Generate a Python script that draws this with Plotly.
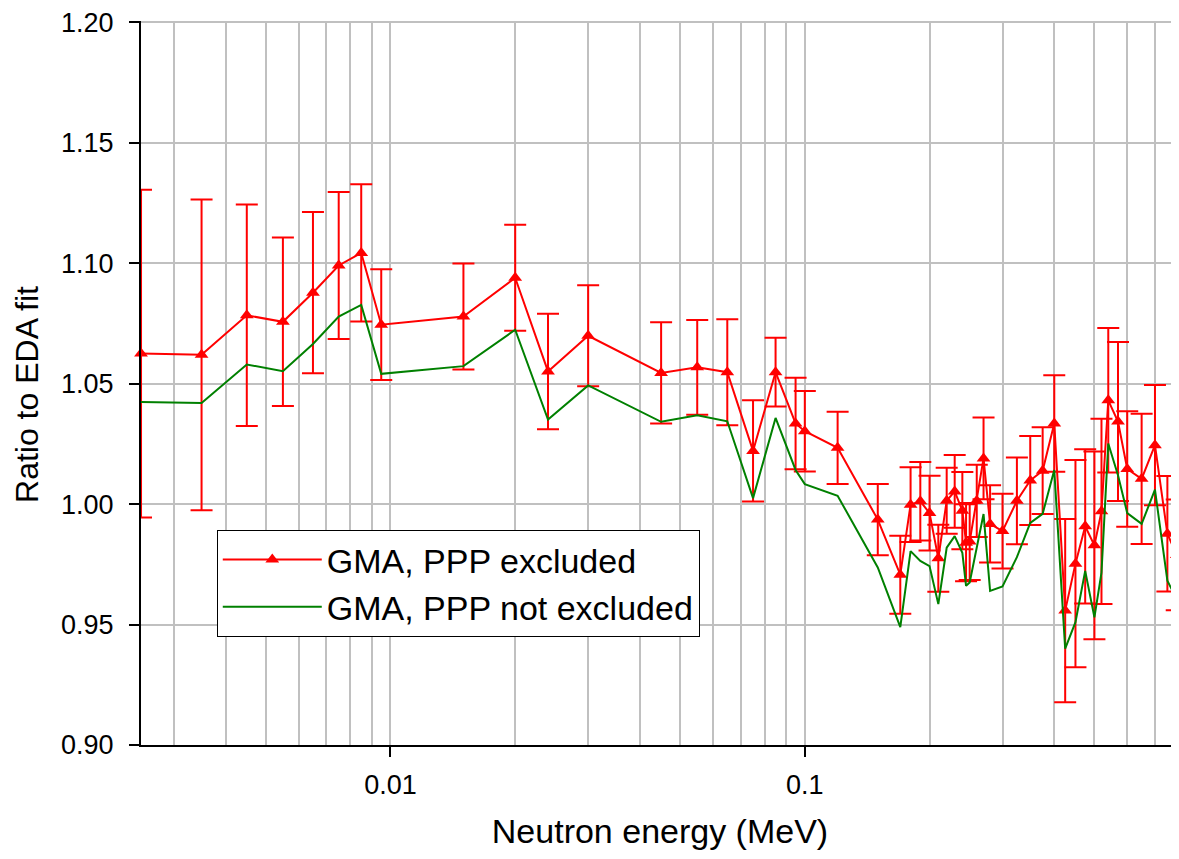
import plotly.graph_objects as go

energy = [0.0025, 0.0035, 0.0045, 0.0055, 0.0065, 0.0075, 0.0085, 0.0095, 0.015, 0.02,
          0.024, 0.03, 0.045, 0.055, 0.065, 0.075, 0.085, 0.095, 0.1, 0.12,
          0.15, 0.17, 0.18, 0.19, 0.2, 0.21, 0.22, 0.23, 0.24, 0.245,
          0.25, 0.26, 0.27, 0.28, 0.3, 0.325, 0.35, 0.375, 0.4, 0.425,
          0.45, 0.475, 0.5, 0.52, 0.54, 0.57, 0.6, 0.65, 0.7, 0.75, 0.79]

ratio_excluded = [1.0625, 1.0620, 1.0784, 1.0757, 1.0878, 1.0991, 1.1043, 1.0745, 1.0779, 1.0940,
                  1.0551, 1.0699, 1.0545, 1.0568, 1.0548, 1.0221, 1.0548, 1.0335, 1.0303, 1.0234,
                  0.9936, 0.9707, 0.9998, 1.0012, 0.9963, 0.9775, 1.0014, 1.0053, 0.9973, 0.9840,
                  0.9845, 1.0014, 1.0190, 0.9918, 0.9888, 1.0014, 1.0098, 1.0139, 1.0335, 0.9558,
                  0.9753, 0.9908, 0.9829, 0.9970, 1.0431, 1.0343, 1.0146, 1.0105, 1.0245, 0.9877, 0.9789]

err_excluded = [0.068, 0.0645, 0.046, 0.035, 0.0335, 0.0305, 0.0285, 0.023, 0.022, 0.022,
                0.024, 0.021, 0.021, 0.0197, 0.022, 0.021, 0.0143, 0.019, 0.0167, 0.015,
                0.0148, 0.0162, 0.0155, 0.0163, 0.0155, 0.0139, 0.0137, 0.0151, 0.016, 0.016,
                0.016, 0.015, 0.017, 0.016, 0.0155, 0.018, 0.0185, 0.018, 0.020, 0.038,
                0.043, 0.032, 0.039, 0.0385, 0.030, 0.033, 0.024, 0.027, 0.025, 0.024, 0.023]

ratio_not_excluded = [1.0424, 1.0420, 1.0580, 1.0552, 1.0665, 1.0779, 1.0827, 1.0541, 1.0573, 1.0724,
                      1.0351, 1.0493, 1.0342, 1.0369, 1.0344, 1.0025, 1.0358, 1.0142, 1.0083, 1.0035,
                      0.9737, 0.9489, 0.9805, 0.9764, 0.9743, 0.9585, 0.9819, 0.9867, 0.9798, 0.9661,
                      0.9675, 0.9820, 0.9959, 0.9640, 0.9658, 0.9780, 0.9922, 0.9960, 1.0142, 0.9400,
                      0.9510, 0.9723, 0.9530, 0.9716, 1.0252, 1.0120, 0.9963, 0.9918, 1.0060, 0.9682, 0.9606]

y_ticks = [0.90, 0.95, 1.00, 1.05, 1.10, 1.15, 1.20]
x_major = [0.01, 0.1]
x_major_text = ["0.01", "0.1"]
x_grid = [0.003, 0.004, 0.005, 0.006, 0.007, 0.008, 0.009,
          0.02, 0.03, 0.04, 0.05, 0.06, 0.07, 0.08, 0.09,
          0.2, 0.3, 0.4, 0.5, 0.6, 0.7, 0.8]
y_title = "Ratio to EDA fit"
x_title = "Neutron energy (MeV)"

RED = "#ff0000"
GREEN = "#008000"
GRID = "#c0c0c0"
FONT = "Liberation Sans, Arial, sans-serif"

fig = go.Figure()
fig.add_trace(go.Scatter(
    x=energy, y=ratio_excluded, mode="lines+markers", name="GMA, PPP excluded",
    line=dict(color=RED, width=2),
    marker=dict(symbol="triangle-up", size=12, color=RED),
    error_y=dict(type="data", array=err_excluded, visible=True, color=RED,
                 thickness=2, width=11),
    cliponaxis=False,
))
fig.add_trace(go.Scatter(
    x=energy, y=ratio_not_excluded, mode="lines", name="GMA, PPP not excluded",
    line=dict(color=GREEN, width=2),
))

fig.update_layout(
    width=1171, height=843,
    margin=dict(l=133, r=0, t=9, b=106),
    paper_bgcolor="white", plot_bgcolor="white",
    font=dict(family=FONT, color="black"),
    showlegend=True,
    legend=dict(
        x=0.073, y=0.297, xanchor="left", yanchor="top",
        bgcolor="white", bordercolor="black", borderwidth=1,
        font=dict(size=34, family=FONT, color="black"),
        itemwidth=99,
    ),
    xaxis=dict(
        type="log",
        range=[-2.6021, -0.0969],
        tickvals=x_major, ticktext=x_major_text,
        ticks="outside", ticklen=10, tickwidth=1.5, tickcolor="black",
        tickfont=dict(size=27, family=FONT, color="black"),
        ticklabelstandoff=5,
        showgrid=True, gridcolor=GRID, gridwidth=1.5,
        minor=dict(tickvals=x_grid, showgrid=True, gridcolor=GRID, gridwidth=1.5, ticks=""),
        showline=True, linecolor="black", linewidth=2,
        zeroline=False,
        title=dict(text=x_title, font=dict(size=34, family=FONT, color="black"),
                   standoff=20),
    ),
    yaxis=dict(
        range=[0.90, 1.2006],
        tickvals=y_ticks, tickformat=".2f",
        ticks="outside", ticklen=10, tickwidth=1.5, tickcolor="black",
        tickfont=dict(size=27, family=FONT, color="black"),
        ticklabelstandoff=10,
        ticklabeloverflow="allow",
        showgrid=True, gridcolor=GRID, gridwidth=1.5,
        showline=True, linecolor="black", linewidth=2,
        zeroline=False,
    ),
    annotations=[dict(
        text=y_title, textangle=-90, xref="paper", yref="paper",
        x=-0.1098, y=0.4835, xanchor="center", yanchor="middle", showarrow=False,
        font=dict(size=32, family=FONT, color="black"),
    )],
)

fig.write_html("out.html")
